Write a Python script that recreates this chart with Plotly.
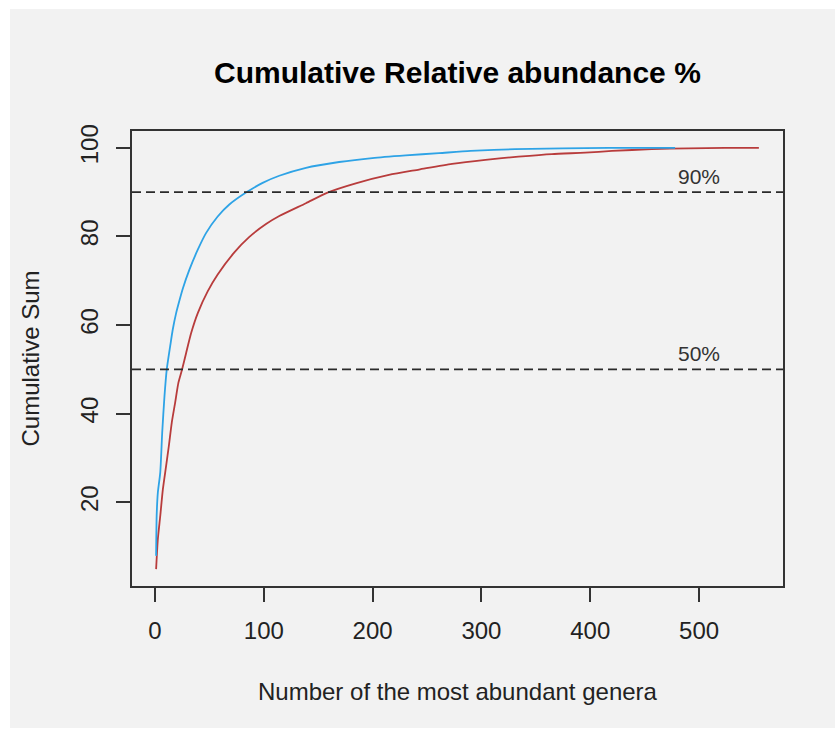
import plotly.graph_objects as go

# ---- data ----
red_x = [1, 2.6, 4.8, 7.2, 10.2, 12.7, 15.4, 18.5, 21.5, 24.9, 28.6, 33.2, 39.3, 48.4, 57.6,
         72.9, 86.7, 102, 114.2, 138.7, 158.5, 184.5, 215, 242.6, 273, 303.7, 334, 364.8,
         395.4, 420, 456.5, 490, 523.8, 555]
red_y = [4.9, 11.7, 16.9, 22.9, 28.2, 32.7, 38.0, 42.5, 47.0, 50.0, 53.7, 58.2, 62.7, 67.6, 71.4,
         76.4, 79.9, 82.8, 84.6, 87.5, 89.9, 92.0, 93.9, 95.1, 96.4, 97.3, 98.0, 98.6,
         98.9, 99.3, 99.7, 99.9, 100.0, 100.0]

blue_x = [1, 1.5, 2.6, 4.8, 6.6, 8.7, 10.8, 13.9, 16.3, 19.4, 22.5, 25.5, 31.6, 39.3, 47.0,
          57.6, 68.3, 83.6, 98.9, 114.2, 138.7, 169.2, 199.7, 230.4, 261, 290, 331, 416.8, 478]
blue_y = [7.9, 16.9, 22.2, 26.7, 35.7, 44.0, 50.0, 55.2, 59.0, 62.7, 65.6, 68.2, 72.5, 77.0, 80.8,
          84.5, 87.2, 89.9, 92.1, 93.7, 95.5, 96.8, 97.7, 98.3, 98.8, 99.3, 99.7, 100.0, 100.0]

thresholds = [50, 90]
threshold_labels = ["50%", "90%"]
label_x = 500
label_offset = 3.5

x_ticks = [0, 100, 200, 300, 400, 500]
y_ticks = [20, 40, 60, 80, 100]

# ---- figure ----
W, H = 835, 729
L, R, T, B = 132, 783, 131, 586  # plot box in pixels
pw, ph = R - L, B - T

def px_x(p):
    return (p - L) / pw

def px_y(p):
    return (B - p) / ph

BG = "#f2f2f2"
AX = "#333333"
FONT = "Liberation Sans, Arial, sans-serif"

fig = go.Figure()
fig.add_trace(go.Scatter(x=red_x, y=red_y, mode="lines",
                         line=dict(color="#b83c3c", width=1.8, shape="spline", smoothing=0.6),
                         showlegend=False, hoverinfo="skip"))
fig.add_trace(go.Scatter(x=blue_x, y=blue_y, mode="lines",
                         line=dict(color="#2ea3e6", width=1.8, shape="spline", smoothing=0.6),
                         showlegend=False, hoverinfo="skip"))

shapes = [dict(type="rect", xref="paper", yref="paper",
               x0=px_x(10), x1=px_x(835), y0=px_y(728), y1=px_y(9),
               fillcolor=BG, line=dict(width=0), layer="below")]
for t in thresholds:
    shapes.append(dict(type="line", xref="paper", yref="y", x0=0, x1=1, y0=t, y1=t,
                       line=dict(color="#2a2a2a", width=1.8, dash="9px,5px"), layer="above"))

annotations = []
for t, lab in zip(thresholds, threshold_labels):
    annotations.append(dict(x=label_x, y=t + label_offset, xref="x", yref="y", text=lab,
                            showarrow=False, font=dict(family=FONT, size=21, color="#333333"),
                            xanchor="center", yanchor="middle"))
annotations.append(dict(x=0.5, xref="paper", y=px_y(691), yref="paper",
                        text="Number of the most abundant genera", showarrow=False,
                        font=dict(family=FONT, size=24, color="#222222"),
                        xanchor="center", yanchor="middle"))
annotations.append(dict(x=px_x(30), xref="paper", y=0.5, yref="paper",
                        text="Cumulative Sum", showarrow=False, textangle=-90,
                        font=dict(family=FONT, size=24, color="#222222"),
                        xanchor="center", yanchor="middle"))
annotations.append(dict(x=0.5, xref="paper", y=px_y(72), yref="paper",
                        text="<b>Cumulative Relative abundance %</b>", showarrow=False,
                        font=dict(family=FONT, size=30, color="#000000"),
                        xanchor="center", yanchor="middle"))

axis_common = dict(showgrid=False, zeroline=False, showline=True, linecolor=AX, linewidth=2,
                   mirror=True, ticks="outside", ticklen=14, tickwidth=2, tickcolor=AX,
                   tickfont=dict(family=FONT, size=24, color="#222222"))

fig.update_layout(
    width=W, height=H,
    margin=dict(l=L, r=W - R, t=T, b=H - B, pad=0),
    paper_bgcolor="white", plot_bgcolor=BG,
    shapes=shapes, annotations=annotations,
    xaxis=dict(range=[-21.16, 577.16], tickvals=x_ticks, ticklabelstandoff=8, **axis_common),
    yaxis=dict(range=[1.1, 103.8], tickvals=y_ticks, tickangle=-90, ticklabelstandoff=8,
               **axis_common),
)

fig.write_html("out.html")
